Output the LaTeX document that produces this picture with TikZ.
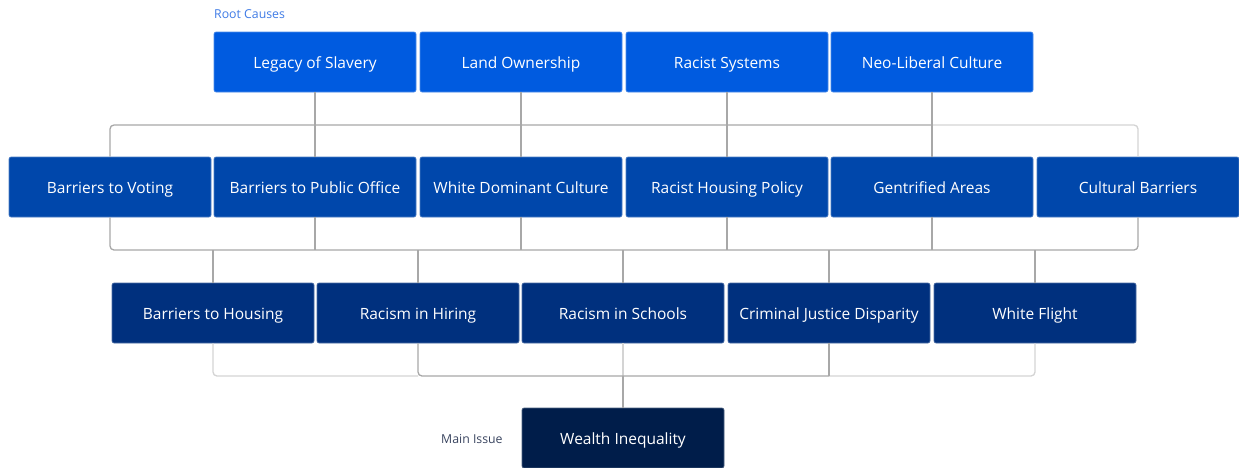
\documentclass[tikz,border=0pt]{standalone}
\usepackage{fontspec}
\setmainfont{Open Sans}
\definecolor{cA}{HTML}{005BE0}
\definecolor{cB}{HTML}{0047AB}
\definecolor{cC}{HTML}{00307E}
\definecolor{cD}{HTML}{001D4A}
\definecolor{lnA}{HTML}{A8A8A8}
\definecolor{lnB}{HTML}{D4D4D4}
\definecolor{rootc}{HTML}{3F7BE6}
\definecolor{mainc}{HTML}{3A4560}
\tikzset{
  box/.style={rectangle, rounded corners=2pt, minimum width=202pt, minimum height=60pt,
    inner sep=0pt, text=white, font=\fontsize{15.5}{17}\selectfont, line width=0.6pt,
    text height=15pt, text depth=2pt},
  lvA/.style={box, fill=cA, draw=cA!70!white},
  lvB/.style={box, fill=cB, draw=cB!70!white},
  lvC/.style={box, fill=cC, draw=cC!70!white},
  lvD/.style={box, fill=cD, draw=cD!70!white},
  conn/.style={draw=lnA, line width=1.3pt, rounded corners=4pt},
  connl/.style={draw=lnB, line width=1.3pt, rounded corners=4pt},
  tag/.style={anchor=west, inner sep=0pt, font=\fontsize{12.3}{14}\selectfont}
}
\begin{document}
\begin{tikzpicture}[x=1pt,y=-1pt]
\fill[white] (0,0) rectangle (1239,467);
\useasboundingbox (0,0) rectangle (1239,467);
\coordinate (busA) at (0,125);
\coordinate (busB) at (0,250);
\coordinate (busC) at (0,376);
\node[tag, text=rootc] (rootlbl) at (214,14) {Root Causes};
\node[tag, text=mainc] (mainlbl) at (441,439) {Main Issue};
% row 1
\node[lvA] (a1) at (315,62) {Legacy of Slavery};
\node[lvA] (a2) at (521,62) {Land Ownership};
\node[lvA] (a3) at (727,62) {Racist Systems};
\node[lvA] (a4) at (932,62) {Neo-Liberal Culture};
% row 2
\node[lvB] (b1) at (110,187) {Barriers to Voting};
\node[lvB] (b2) at (315,187) {Barriers to Public Office};
\node[lvB] (b3) at (521,187) {White Dominant Culture};
\node[lvB] (b4) at (727,187) {Racist Housing Policy};
\node[lvB] (b5) at (932,187) {Gentrified Areas};
\node[lvB] (b6) at (1138,187) {Cultural Barriers};
% row 3
\node[lvC] (c1) at (213,313) {Barriers to Housing};
\node[lvC] (c2) at (418,313) {Racism in Hiring};
\node[lvC] (c3) at (623,313) {Racism in Schools};
\node[lvC] (c4) at (829,313) {Criminal Justice Disparity};
\node[lvC] (c5) at (1035,313) {White Flight};
% row 4
\node[lvD] (d1) at (623,438) {Wealth Inequality};
% connectors row1 -> row2
\draw[connl] (b5.north |- busA) -- (b6.north |- busA) -- (b6.north);
\draw[conn] (b1.north) -- (b1.north |- busA) -- (b5.north |- busA);
\foreach \n in {a1,a2,a3,a4} \draw[conn] (\n.south) -- (\n.south |- busA);
\foreach \n in {b2,b3,b4,b5} \draw[conn] (\n.north) -- (\n.north |- busA);
% row2 -> row3
\draw[conn] (b1.south) -- (b1.south |- busB) -- (b6.south |- busB) -- (b6.south);
\foreach \n in {b2,b3,b4,b5} \draw[conn] (\n.south) -- (\n.south |- busB);
\foreach \n in {c1,c2,c3,c4,c5} \draw[conn] (\n.north) -- (\n.north |- busB);
% row3 -> row4
\draw[connl] (c1.south) -- (c1.south |- busC) -- (c2.south |- busC);
\draw[connl] (c4.south |- busC) -- (c5.south |- busC) -- (c5.south);
\draw[connl] (c3.south) -- (c3.south |- busC);
\draw[conn] (c2.south) -- (c2.south |- busC) -- (c4.south |- busC);
\draw[conn] (c4.south) -- (c4.south |- busC);
\draw[conn] (d1.north |- busC) -- (d1.north);
\end{tikzpicture}
\end{document}
